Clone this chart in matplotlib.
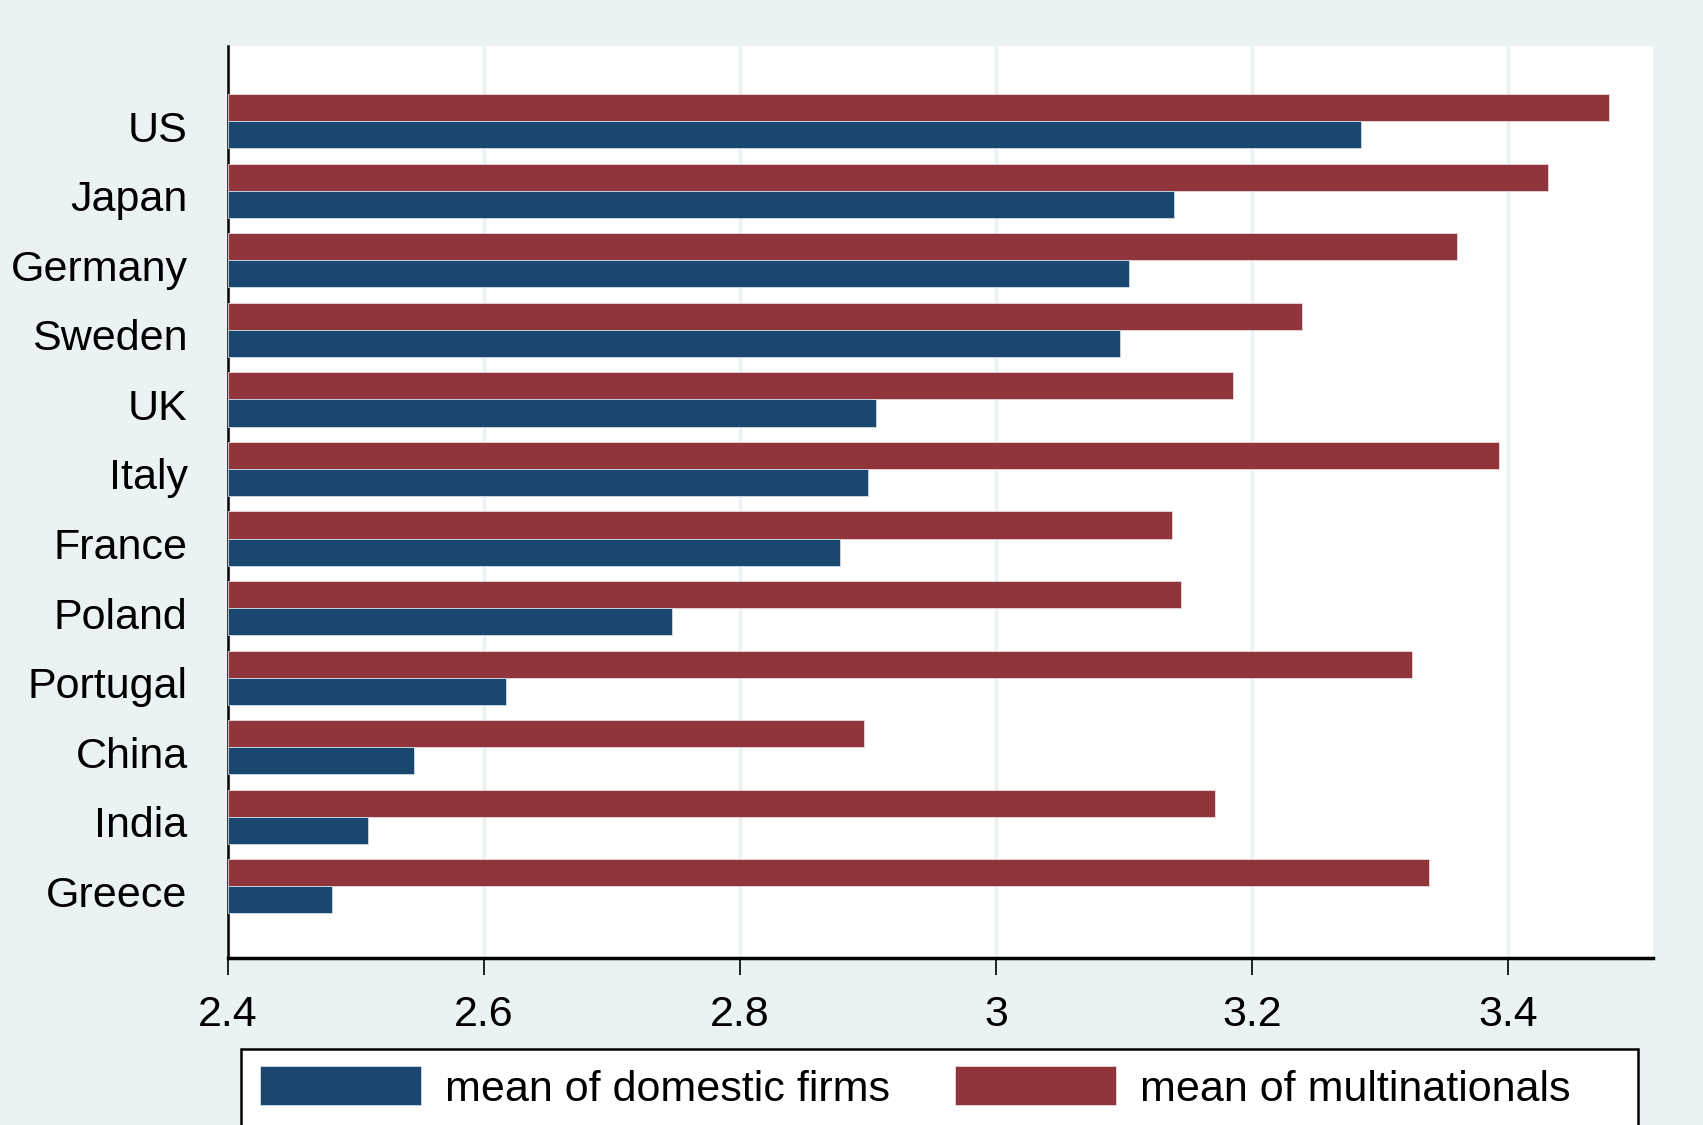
import numpy as np
import matplotlib
matplotlib.use("Agg")
import matplotlib.pyplot as plt
from matplotlib.patches import Rectangle
from matplotlib.transforms import ScaledTranslation

# data
countries = ["US", "Japan", "Germany", "Sweden", "UK", "Italy",
             "France", "Poland", "Portugal", "China", "India", "Greece"]
domestic = [3.285, 3.139, 3.104, 3.097, 2.906, 2.900,
            2.878, 2.747, 2.617, 2.545, 2.509, 2.481]
multinat = [3.479, 3.431, 3.360, 3.239, 3.185, 3.393,
            3.137, 3.144, 3.325, 2.897, 3.171, 3.338]
xticks = [2.4, 2.6, 2.8, 3.0, 3.2, 3.4]
xticklabels = ["2.4", "2.6", "2.8", "3", "3.2", "3.4"]

navy = "#1A476F"
maroon = "#90353B"
bg = "#EAF2F3"

plt.rcParams['font.family'] = ['Liberation Sans', 'DejaVu Sans']

W, H = 1703, 1125
fig = plt.figure(figsize=(W/100, H/100), dpi=100)
fig.patch.set_facecolor(bg)

# plot region in pixels
left, right, top, bottom = 228, 1653, 46, 958
ax = fig.add_axes([left/W, 1-bottom/H, (right-left)/W, (bottom-top)/H])
ax.set_facecolor("white")

y = np.arange(len(countries))
h = 0.39
base = 2.4
ax.barh(y - h/2, np.array(multinat) - base, left=base, height=h,
        color=maroon, edgecolor="#E8D8DA", linewidth=0.6, zorder=3,
        label="mean of multinationals")
ax.barh(y + h/2, np.array(domestic) - base, left=base, height=h,
        color=navy, edgecolor="#D0DCE6", linewidth=0.6, zorder=3,
        label="mean of domestic firms")

ax.set_xlim(2.4, 3.513)
ax.set_ylim(12.03, -1.08)

ax.set_xticks(xticks)
ax.set_xticklabels(xticklabels, fontsize=31)
ax.set_yticks(y)
ax.set_yticklabels(countries, fontsize=31)
ax.tick_params(axis='y', length=0, pad=29)
ax.tick_params(axis='x', length=12, width=1.2, direction='out', pad=15, color='black')

# stata-ish labels sit a little low
shift = ScaledTranslation(0, -0.05, fig.dpi_scale_trans)
for lab in ax.get_yticklabels():
    lab.set_transform(lab.get_transform() + shift)

ax.xaxis.grid(True, color=bg, linewidth=2.5, zorder=0)
ax.set_axisbelow(True)

for s in ['top', 'right']:
    ax.spines[s].set_visible(False)
ax.spines['left'].set_linewidth(1.8)
ax.spines['bottom'].set_linewidth(2.5)

# legend box running off the bottom of the figure
fig.add_artist(Rectangle((241/W, -0.05), (1638-241)/W, 0.05 + 1-1049/H,
                         transform=fig.transFigure, facecolor="white",
                         edgecolor="black", linewidth=1.8, zorder=1))

handles, labels = ax.get_legend_handles_labels()
leg = fig.legend(handles[::-1], labels[::-1], loc='center left',
                 bbox_to_anchor=(260/W, 1-1088/H), ncol=2, frameon=False,
                 fontsize=31, handlelength=3.74, handleheight=1.0,
                 handletextpad=0.56, columnspacing=1.5, borderpad=0,
                 borderaxespad=0)
leg.set_zorder(5)

fig.savefig("out.png", dpi=100, facecolor=fig.get_facecolor())
